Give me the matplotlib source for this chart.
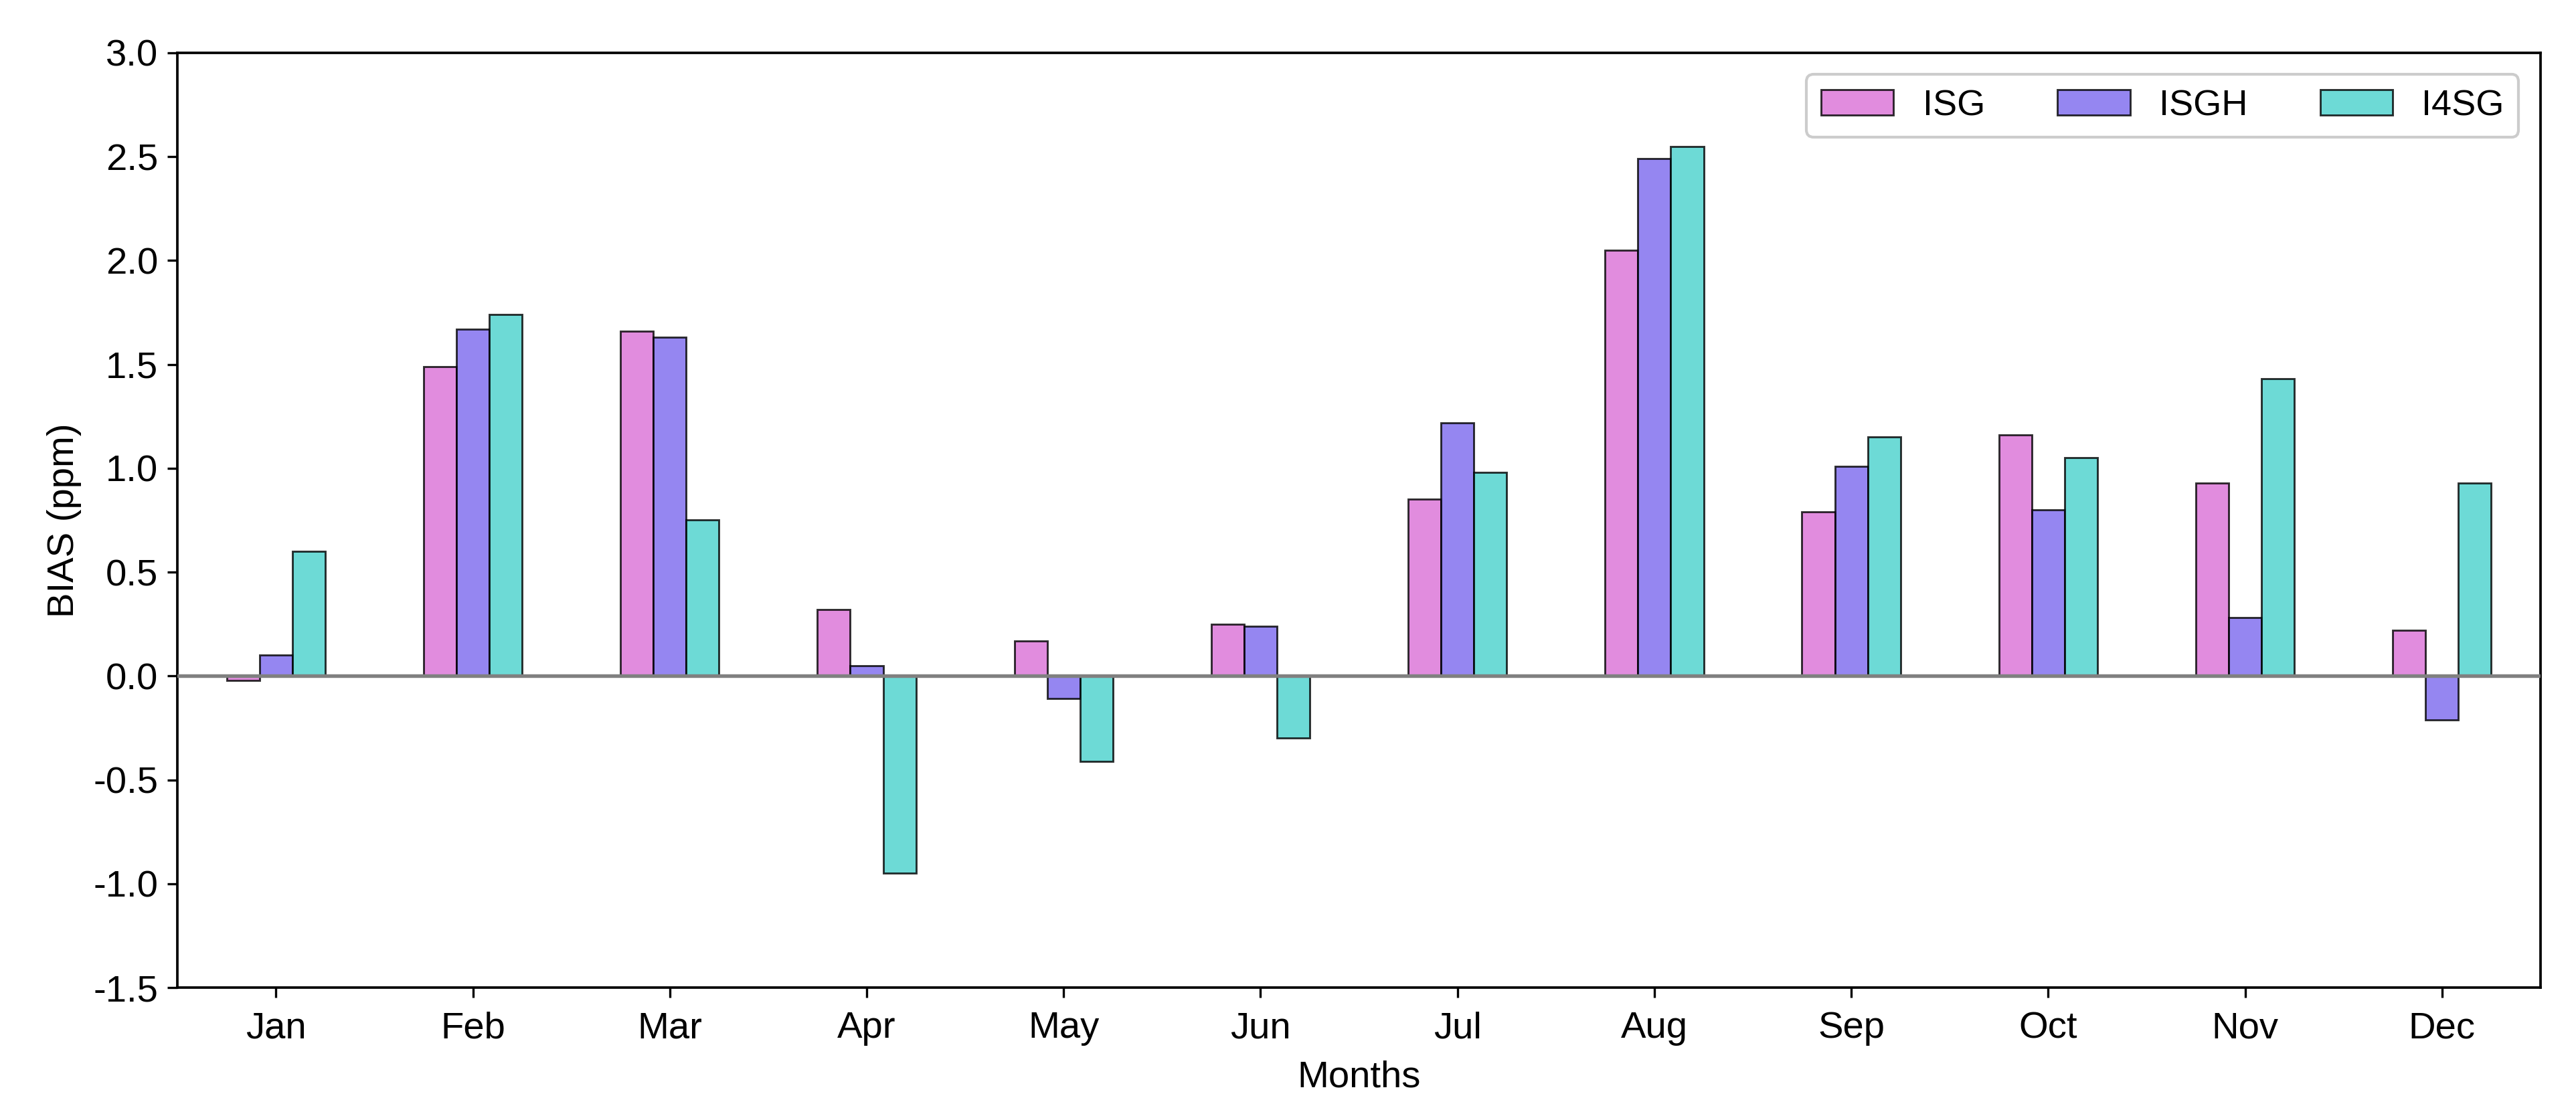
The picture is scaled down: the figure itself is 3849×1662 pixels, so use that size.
import numpy as np
import matplotlib
matplotlib.use("Agg")
import matplotlib.pyplot as plt

# ──────────────────────────────────────────────
# Data
# ──────────────────────────────────────────────
months = ["Jan", "Feb", "Mar", "Apr", "May", "Jun",
          "Jul", "Aug", "Sep", "Oct", "Nov", "Dec"]
isg = [-0.02, 1.49, 1.66, 0.32, 0.17, 0.25, 0.85, 2.05, 0.79, 1.16, 0.93, 0.22]
isgh = [0.10, 1.67, 1.63, 0.05, -0.11, 0.24, 1.22, 2.49, 1.01, 0.80, 0.28, -0.21]
i4sg = [0.60, 1.74, 0.75, -0.95, -0.41, -0.30, 0.98, 2.55, 1.15, 1.05, 1.43, 0.93]

series_names = ["ISG", "ISGH", "I4SG"]
series_colors = ["orchid", "mediumslateblue", "mediumturquoise"]

# ──────────────────────────────────────────────
# Plot
# ──────────────────────────────────────────────
plt.rcParams.update({
    "font.family": ["Liberation Sans", "DejaVu Sans"],
    "font.size": 13,
    "axes.linewidth": 0.9,
    "axes.unicode_minus": False,
})

fig = plt.figure(figsize=(12.83, 5.54), dpi=300)
ax = fig.add_axes([0.0689, 0.1119, 0.9173, 0.8406])

x = np.arange(len(months))
width = 0.167

for i, (vals, name, col) in enumerate(zip([isg, isgh, i4sg], series_names, series_colors)):
    ax.bar(x + (i - 1) * width, vals, width,
           color=col, edgecolor="black", linewidth=0.7, alpha=0.8,
           label=name, zorder=2)

ax.axhline(0, color="gray", linewidth=1.3, zorder=3)

ax.set_xlim(-0.5, len(months) - 0.5)
ax.set_ylim(-1.5, 3.0)
ax.set_yticks(np.arange(-1.5, 3.01, 0.5))
ax.set_xticks(x)
ax.set_xticklabels(months)
ax.tick_params(axis="both", labelsize=13.5, length=3.5, width=0.8)
ax.tick_params(axis="x", pad=5)

ax.set_xlabel("Months", fontsize=13.5, labelpad=5)
ax.set_ylabel("BIAS (ppm)", fontsize=13.5)

ax.legend(loc="upper right", ncol=3, fontsize=13, framealpha=1.0,
          edgecolor="#cccccc", borderaxespad=0.6)

fig.savefig("out.png", dpi=300)
plt.close(fig)
